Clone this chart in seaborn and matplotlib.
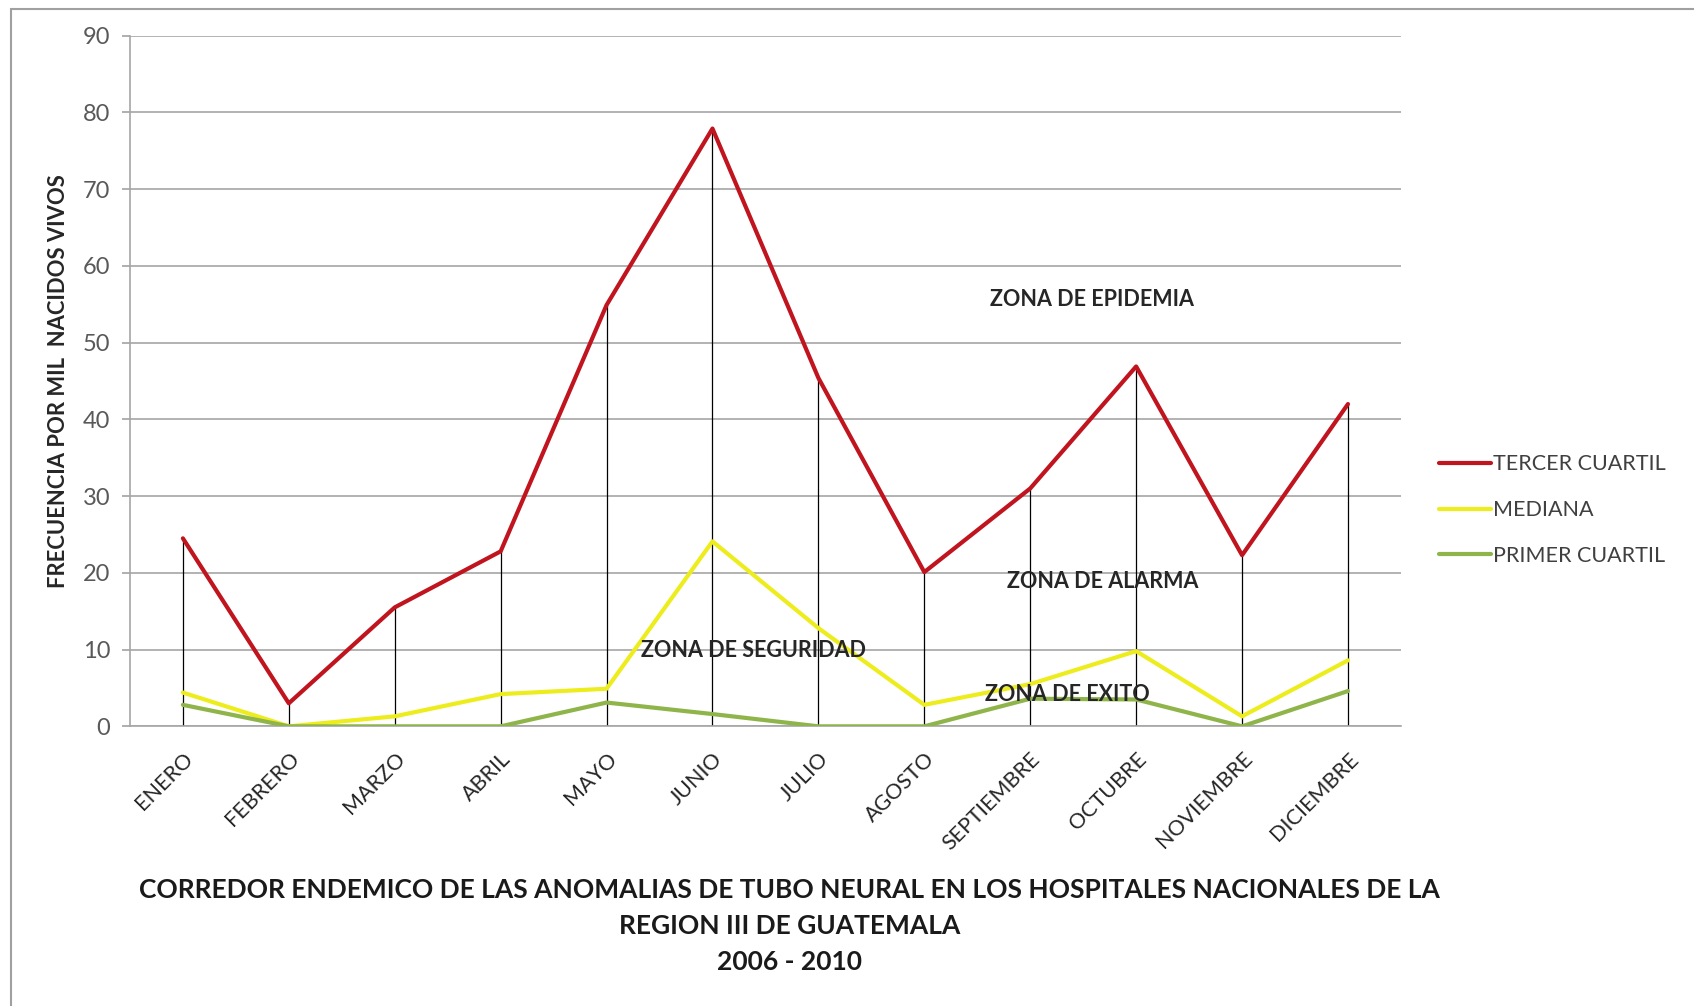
import numpy as np
import pandas as pd

import matplotlib.pyplot as plt
import seaborn as sns
from matplotlib.patches import Rectangle


meses = ["ENERO", "FEBRERO", "MARZO", "ABRIL", "MAYO", "JUNIO", "JULIO",
         "AGOSTO", "SEPTIEMBRE", "OCTUBRE", "NOVIEMBRE", "DICIEMBRE"]

tercer_cuartil = [24.5, 3.0, 15.5, 22.8, 54.9, 77.9, 45.4, 20.1, 31.0, 46.9, 22.3, 42.0]
mediana = [4.4, 0.0, 1.3, 4.2, 4.9, 24.1, 12.8, 2.8, 5.5, 9.8, 1.3, 8.6]
primer_cuartil = [2.8, 0.0, 0.0, 0.0, 3.1, 1.6, 0.0, 0.0, 3.6, 3.5, 0.0, 4.6]

series = ["TERCER CUARTIL", "MEDIANA", "PRIMER CUARTIL"]
colores = ["#C0141E", "#EDED1E", "#8FB54A"]

zonas = ["ZONA DE EPIDEMIA", "ZONA DE ALARMA", "ZONA DE SEGURIDAD", "ZONA DE EXITO"]
zonas_x = [8.58, 8.68, 5.39, 8.35]
zonas_y = [55.6, 18.9, 9.9, 4.1]

titulo = ("CORREDOR ENDEMICO DE LAS ANOMALIAS DE TUBO NEURAL EN LOS HOSPITALES NACIONALES DE LA\n"
          "REGION III DE GUATEMALA\n2006 - 2010")

x = np.arange(len(meses))
df = pd.DataFrame({"mes": np.tile(x, 3),
                   "valor": tercer_cuartil + mediana + primer_cuartil,
                   "serie": np.repeat(series, len(meses))})

sns.set_theme(style="white")
plt.rcParams['font.family'] = ['Lato', 'DejaVu Sans']

fig = plt.figure(figsize=(16.94, 10.06), dpi=100)
ax = fig.add_axes([0.0767, 0.278, 0.827 - 0.0767, 0.9645 - 0.278])

ax.yaxis.grid(True, color="#A6A6A6", linewidth=1.2)
ax.set_axisbelow(True)

# drop lines
ax.vlines(x, 0, tercer_cuartil, color="black", linewidth=0.9, zorder=1)

sns.lineplot(data=df, x="mes", y="valor", hue="serie", hue_order=series,
             palette=colores, linewidth=3, ax=ax, zorder=3)

ax.set_xlim(-0.5, len(meses) - 0.5)
ax.set_ylim(0, 90)
ax.set_yticks(range(0, 91, 10))
ax.set_xticks(x)
ax.set_xticklabels(meses, rotation=45, ha="right", rotation_mode="anchor",
                   fontsize=15.5, color="#262626")
ax.tick_params(axis="y", labelsize=17, labelcolor="#595959", left=True,
               length=6, color="#A6A6A6", pad=8)
ax.tick_params(axis="x", bottom=False, pad=10)
for s in ["top", "right"]:
    ax.spines[s].set_visible(False)
ax.spines["left"].set_color("#A6A6A6")
ax.spines["bottom"].set_color("#A6A6A6")
ax.spines["left"].set_linewidth(1.2)
ax.spines["bottom"].set_linewidth(1.2)

ax.set_xlabel("")
ax.set_ylabel("FRECUENCIA POR MIL  NACIDOS VIVOS", fontsize=15.8, fontweight="bold",
              color="#262626", labelpad=10)

for t, zx, zy in zip(zonas, zonas_x, zonas_y):
    ax.text(zx, zy, t, ha="center", va="center", fontsize=15.5, fontweight="bold",
            color="#262626", zorder=5)

ax.legend(loc="center left", bbox_to_anchor=(1.015, 0.313), frameon=False,
          fontsize=15.5, handlelength=2.4, handletextpad=0.1, labelspacing=1.2,
          labelcolor="#404040")

fig.text(0.466, 0.0795, titulo, ha="center", va="center", fontsize=19,
         fontweight="bold", color="#1a1a1a", linespacing=1.6)

fig.patches.append(Rectangle((0.0064, -0.01), 1.1, 1.0015, transform=fig.transFigure,
                             fill=False, edgecolor="#A0A0A0", linewidth=1.5))

plt.savefig("out.png", dpi=100)
plt.close()
